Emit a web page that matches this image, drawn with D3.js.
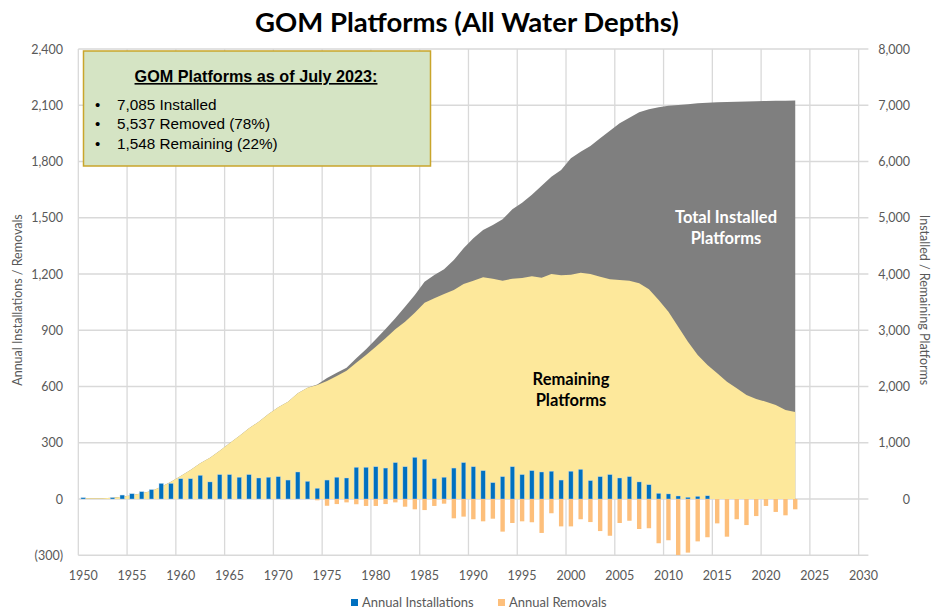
<!DOCTYPE html>
<html><head><meta charset="utf-8">
<script src="https://cdn.jsdelivr.net/npm/d3@7"></script>
<style>
body{margin:0;background:#fff;}
svg{display:block;}
</style></head>
<body>
<svg id="chart" width="935" height="611"></svg>
<script>
const years = d3.range(1950, 2024);
const axisYears = d3.range(1950, 2031);
const xTickYears = [1950,1955,1960,1965,1970,1975,1980,1985,1990,1995,2000,2005,2010,2015,2020,2025,2030];
const leftTicks = [-300,0,300,600,900,1200,1500,1800,2100,2400];
const rightTicks = [0,1000,2000,3000,4000,5000,6000,7000,8000];

const installations = [7,0,0,7,21,28,39,50,83,83,108,108,126,91,130,130,116,130,112,116,
 119,101,144,94,57,101,116,112,169,169,172,165,194,172,222,212,108,116,165,194,
 172,151,87,119,172,130,151,144,148,101,148,158,98,119,130,112,119,91,76,30,
 27,16,9,14,17,0,0,0,0,0,0,0,0,0];
const removals = [0,0,0,0,0,0,0,0,0,0,0,0,0,0,0,0,0,0,0,0,
 0,0,0,0,7,36,27,18,28,37,37,27,18,41,55,59,37,25,103,94,
 108,119,105,174,128,119,124,181,76,146,146,108,123,171,196,128,116,160,156,236,
 220,299,286,226,204,130,201,108,139,91,37,69,87,55];
const remaining = [12,12,12,23,41,65,101,142,219,308,409,516,634,734,859,990,1120,1257,1374,1511,
 1630,1730,1879,1979,2027,2100,2187,2281,2424,2560,2708,2856,3016,3152,3313,3490,3567,3644,3716,3822,
 3881,3941,3917,3881,3917,3929,3958,3932,4000,3976,3988,4024,4000,3953,3905,3893,3881,3834,3728,3538,
 3330,3063,2797,2560,2382,2234,2086,1968,1849,1778,1730,1671,1582,1548];
const totalInstalled = [12,12,12,23,41,65,101,142,219,308,409,516,634,734,859,990,1120,1257,1374,1511,
 1630,1730,1879,1979,2034,2150,2246,2335,2501,2661,2839,3022,3212,3419,3627,3863,3982,4083,4249,4456,
 4634,4782,4871,4972,5150,5268,5407,5567,5730,5849,6056,6175,6276,6412,6548,6679,6779,6874,6928,6963,
 6992,7004,7016,7034,7046,7052,7058,7063,7067,7071,7075,7078,7081,7085];

const svg = d3.select("#chart");
const L = 78.3, R = 868.4, T = 49, B = 555.25;
const x = d3.scaleBand().domain(axisYears).range([L, R]).padding(0);
const yL = d3.scaleLinear().domain([-300, 2400]).range([B, T]);
const yR = d3.scaleLinear().domain([-1000, 8000]).range([B, T]);
const cx = d => x(d) + x.bandwidth()/2;
const tickFont = "Lato, 'Open Sans', sans-serif";

// gridlines
const g = svg.append("g");
g.selectAll(".hg").data(leftTicks).join("line")
  .attr("x1", L).attr("x2", R).attr("y1", d=>yL(d)).attr("y2", d=>yL(d))
  .attr("stroke", "#d9d9d9").attr("stroke-width", 1.3);
g.selectAll(".vg").data(xTickYears).join("line")
  .attr("x1", d=>x(d)).attr("x2", d=>x(d)).attr("y1", T).attr("y2", B)
  .attr("stroke", "#d9d9d9").attr("stroke-width", 1.3);

// areas
const areaGen = d3.area().x((d,i)=>cx(years[i])).y0(yR(0)).y1(d=>yR(d));
svg.append("path").datum(totalInstalled).attr("d", areaGen).attr("fill", "#7f7f7f");
svg.append("path").datum(remaining).attr("d", areaGen).attr("fill", "#fde89b");

// bars
const bw = x.bandwidth()*0.45;
svg.append("g").selectAll("rect").data(years.map((y,i)=>({y, v: installations[i]})).filter(d=>d.v>0)).join("rect")
  .attr("x", d=>cx(d.y)-bw/2).attr("width", bw)
  .attr("y", d=>yL(d.v)).attr("height", d=>yL(0)-yL(d.v))
  .attr("fill", "#0070c0").attr("stroke", "#b8d4e8").attr("stroke-width", 0.4);
svg.append("g").selectAll("rect").data(years.map((y,i)=>({y, v: removals[i]})).filter(d=>d.v>0)).join("rect")
  .attr("x", d=>cx(d.y)-bw/2).attr("width", bw)
  .attr("y", yL(0)).attr("height", d=>yL(-d.v)-yL(0))
  .attr("fill", "#fdbf7b");

// axes labels
const fmtL = v => v < 0 ? "(" + d3.format(",")(-v) + ")" : d3.format(",")(v);
svg.append("g").selectAll("text").data(leftTicks).join("text")
  .attr("x", 63).attr("y", d=>yL(d)+4.5).attr("text-anchor", "end")
  .attr("font-family", tickFont).attr("font-size", 12.5).attr("fill", "#595959").text(fmtL);
svg.append("g").selectAll("text").data(rightTicks).join("text")
  .attr("x", 910).attr("y", d=>yR(d)+4.5).attr("text-anchor", "end")
  .attr("font-family", tickFont).attr("font-size", 12.5).attr("fill", "#595959").text(d3.format(","));
svg.append("g").selectAll("text").data(xTickYears).join("text")
  .attr("x", d=>cx(d)).attr("y", 580).attr("text-anchor", "middle")
  .attr("font-family", tickFont).attr("font-size", 12.5).attr("fill", "#595959").text(d=>d);

svg.append("text").attr("transform", "translate(22,300) rotate(-90)").attr("text-anchor", "middle")
  .attr("font-family", tickFont).attr("font-size", 12.5).attr("fill", "#595959").text("Annual Installations / Removals");
svg.append("text").attr("transform", "translate(920,300) rotate(90)").attr("text-anchor", "middle")
  .attr("font-family", tickFont).attr("font-size", 12.5).attr("fill", "#595959").text("Installed / Remaining Platforms");

// title
svg.append("text").attr("x", 467).attr("y", 32).attr("text-anchor", "middle")
  .attr("font-family", tickFont).attr("font-weight", "bold").attr("font-size", 27.5).attr("fill", "#000")
  .text("GOM Platforms (All Water Depths)");

// in-chart labels
const lab = svg.append("g").attr("font-family", tickFont).attr("font-weight", "bold").attr("font-size", 16.5).attr("text-anchor", "middle");
lab.append("text").attr("x", 726).attr("y", 223).attr("fill", "#fff").text("Total Installed");
lab.append("text").attr("x", 726).attr("y", 244).attr("fill", "#fff").text("Platforms");
lab.append("text").attr("x", 571).attr("y", 385).attr("fill", "#000").text("Remaining");
lab.append("text").attr("x", 571).attr("y", 406).attr("fill", "#000").text("Platforms");

// text box
const box = svg.append("g");
const boxFont = "'Liberation Sans', Arial, sans-serif";
box.append("rect").attr("x", 83.5).attr("y", 51).attr("width", 347).attr("height", 115)
  .attr("fill", "#d5e4c4").attr("stroke", "#c9a52b").attr("stroke-width", 1.5);
box.append("text").attr("x", 256).attr("y", 82).attr("text-anchor", "middle")
  .attr("font-family", boxFont).attr("font-weight", "bold").attr("font-size", 16.2)
  .attr("text-decoration", "underline").attr("fill", "#000").text("GOM Platforms as of July 2023:");
const bullets = ["7,085 Installed", "5,537 Removed (78%)", "1,548 Remaining (22%)"];
bullets.forEach((t, i) => {
  box.append("text").attr("x", 95).attr("y", 109.5 + i*19.5)
    .attr("font-family", boxFont).attr("font-size", 15).attr("fill", "#000").text("•");
  box.append("text").attr("x", 117).attr("y", 109.5 + i*19.5)
    .attr("font-family", boxFont).attr("font-size", 15.3).attr("fill", "#000").text(t);
});

// legend
const leg = svg.append("g").attr("font-family", tickFont).attr("font-size", 13).attr("fill", "#595959");
leg.append("rect").attr("x", 351).attr("y", 599).attr("width", 7).attr("height", 7).attr("fill", "#0070c0");
leg.append("text").attr("x", 362).attr("y", 607).text("Annual Installations");
leg.append("rect").attr("x", 498).attr("y", 599).attr("width", 7).attr("height", 7).attr("fill", "#fdbf7b");
leg.append("text").attr("x", 509).attr("y", 607).text("Annual Removals");
</script>
</body></html>
